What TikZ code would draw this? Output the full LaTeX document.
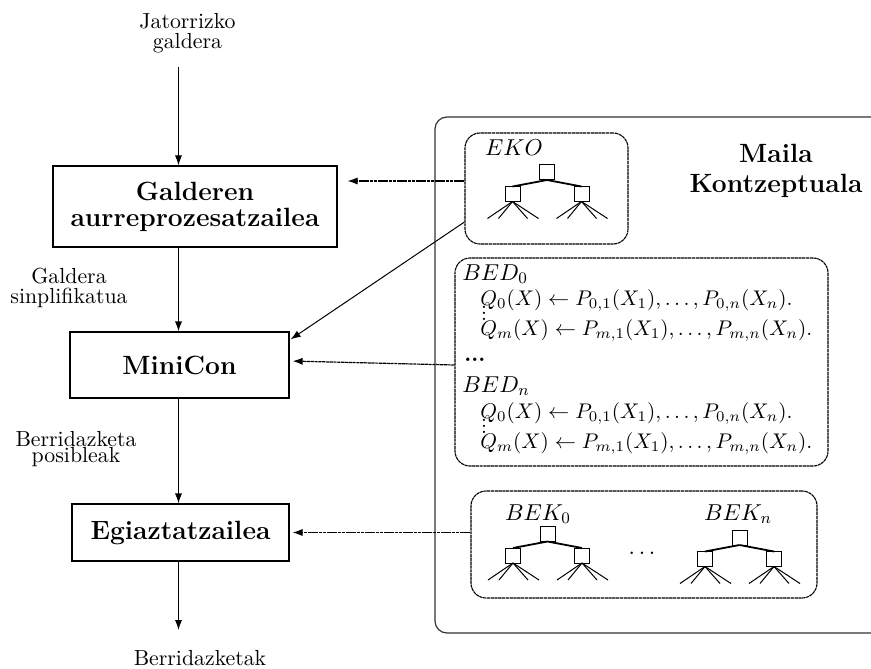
\RequirePackage{fix-cm}
\documentclass[tikz,border=0pt]{standalone}
\usepackage{fontspec}
\usetikzlibrary{arrows.meta}

% three tightly stacked dots between two rule lines
\newcommand{\tightvdots}{\vbox{\baselineskip=3pt\lineskiplimit=-20pt\hbox{.}\hbox{.}\hbox{.}}}

\tikzset{
  pics/ktree/.style={code={
    \draw[line width=0.5pt] (-7.5,-7.5) rectangle (7.5,7.5);
    \foreach \s in {-1,1} {
      \draw[line width=0.5pt] (\s*34.5-7.5,14) rectangle (\s*34.5+7.5,29);
      \draw[line width=0.9pt] (0,7.5) -- (\s*34.5,14);
      \foreach \d in {-25,-14,15,26}
        \draw[line width=0.5pt] (\s*34.5,29) -- (\s*34.5+\d,46);
    }
  }}
}

\begin{document}
\begin{tikzpicture}[x=0.5pt,y=-0.5pt,
  lbl/.style={align=center,inner sep=0pt},
  proc/.style={draw,line width=0.6pt,align=center,inner sep=0pt,
    font=\fontsize{13.2}{13}\selectfont\bfseries},
  flow/.style={line width=0.6pt,-{Latex[length=5pt,width=3.6pt]}},
  group/.style={draw,line width=0.55pt,dash pattern=on 1.6pt off 0.3pt,
    rounded corners=7.5pt,inner sep=0pt},
  side/.style={flow,dash pattern=on 1.6pt off 0.3pt},
  rule/.style={anchor=base west,inner sep=0pt,font=\fontsize{10.6}{12}\selectfont},
  mlabel/.style={inner sep=0pt,font=\fontsize{11.5}{13}\selectfont}
]
\useasboundingbox (0,0) rectangle (871,668);

% ---- conceptual level frame (open to the right) ----
\draw[line width=0.6pt,draw=black!80,rounded corners=6pt]
  (871,117) -- (435,117) -- (435,633) -- (871,633);
\node[align=center,inner sep=0pt,font=\fontsize{13.2}{15}\selectfont\bfseries]
  (maila) at (776,171) {Maila\\Kontzeptuala};

% ---- ontology box ----
\node[group,minimum width=81.5pt,minimum height=55.5pt] (eko) at (546.5,188.5) {};
\node[mlabel] (ekol) at (514,148) {$EKO$};
\pic at (547,172.5) {ktree};

% ---- view definitions box ----
\node[group,minimum width=186.5pt,minimum height=104pt] (bed) at (641.5,362) {};
\node[mlabel,anchor=base west] (bed0) at (462,280) {$BED_0$};
\node[rule] (r00) at (480,305) {$Q_0(X) \leftarrow P_{0,1}(X_1), \ldots, P_{0,n}(X_n)$.};
\node[inner sep=0pt,font=\fontsize{10.6}{12}\selectfont] (d0) at (484,313) {\tightvdots};
\node[rule] (r0m) at (480,335) {$Q_m(X) \leftarrow P_{m,1}(X_1), \ldots, P_{m,n}(X_n)$.};
\node[anchor=base west,inner sep=0pt,font=\fontsize{10.9}{13}\selectfont\bfseries] (bdots) at (464,361) {...};
\node[mlabel,anchor=base west] (bedn) at (462,392) {$BED_n$};
\node[rule] (rn0) at (480,418) {$Q_0(X) \leftarrow P_{0,1}(X_1), \ldots, P_{0,n}(X_n)$.};
\node[inner sep=0pt,font=\fontsize{10.6}{12}\selectfont] (dn) at (484,426) {\tightvdots};
\node[rule] (rnm) at (480,448) {$Q_m(X) \leftarrow P_{m,1}(X_1), \ldots, P_{m,n}(X_n)$.};

% ---- source schemas box ----
\node[group,minimum width=173pt,minimum height=53.5pt] (bek) at (644,544.5) {};
\node[mlabel] (bek0) at (538,514) {$BEK_0$};
\node[mlabel] (bekn) at (738,514) {$BEK_n$};
\pic at (547.5,534) {ktree};
\pic at (739.5,537.5) {ktree};
\node[mlabel,anchor=base] (tdots) at (642,554) {$\ldots$};

% ---- processing chain ----
\node[lbl,font=\fontsize{10.9}{10}\selectfont] (q) at (187.5,33) {Jatorrizko\\galdera};
\coordinate (in) at (178.5,67);
\node[proc,minimum width=142pt,minimum height=40.5pt] (pre) at (195,206.5)
  {Galderen\\aurreprozesatzailea};
\node[lbl,font=\fontsize{10.9}{10}\selectfont] (simp) at (69,288) {Galdera\\sinplifikatua};
\node[proc,minimum width=109.5pt,minimum height=33pt] (mc) at (179.5,365) {MiniCon};
\node[lbl,font=\fontsize{10.9}{8}\selectfont] (pos) at (76,449) {Berridazketa\\posibleak};
\node[proc,minimum width=108.5pt,minimum height=28.5pt] (eg) at (180.5,532.5) {Egiaztatzailea};
\coordinate (out) at (178.5,630);
\node[lbl,anchor=base,font=\fontsize{10.9}{12}\selectfont] (res) at (200,665) {Berridazketak};

\draw[flow] (in) -- (in |- pre.north);
\draw[flow] (in |- pre.south) -- (in |- mc.north);
\draw[flow] (in |- mc.south) -- (in |- eg.north);
\draw[flow] (in |- eg.south) -- (out);

% ---- links from the conceptual level ----
\draw[side,shorten >=5pt] ([yshift=3.75pt]eko.west) -- ([yshift=3.75pt]eko.west -| pre.east);
\draw[flow,line width=0.5pt] ([yshift=-16.75pt]eko.west) -- ([xshift=0.5pt,yshift=-4pt]mc.north east);
\draw[side,shorten >=1.5pt] (bed.west |- mc) -- ([yshift=2pt]mc.east);
\draw[side,shorten >=1.5pt] (bek.west |- eg) -- (eg.east);
\end{tikzpicture}
\end{document}
